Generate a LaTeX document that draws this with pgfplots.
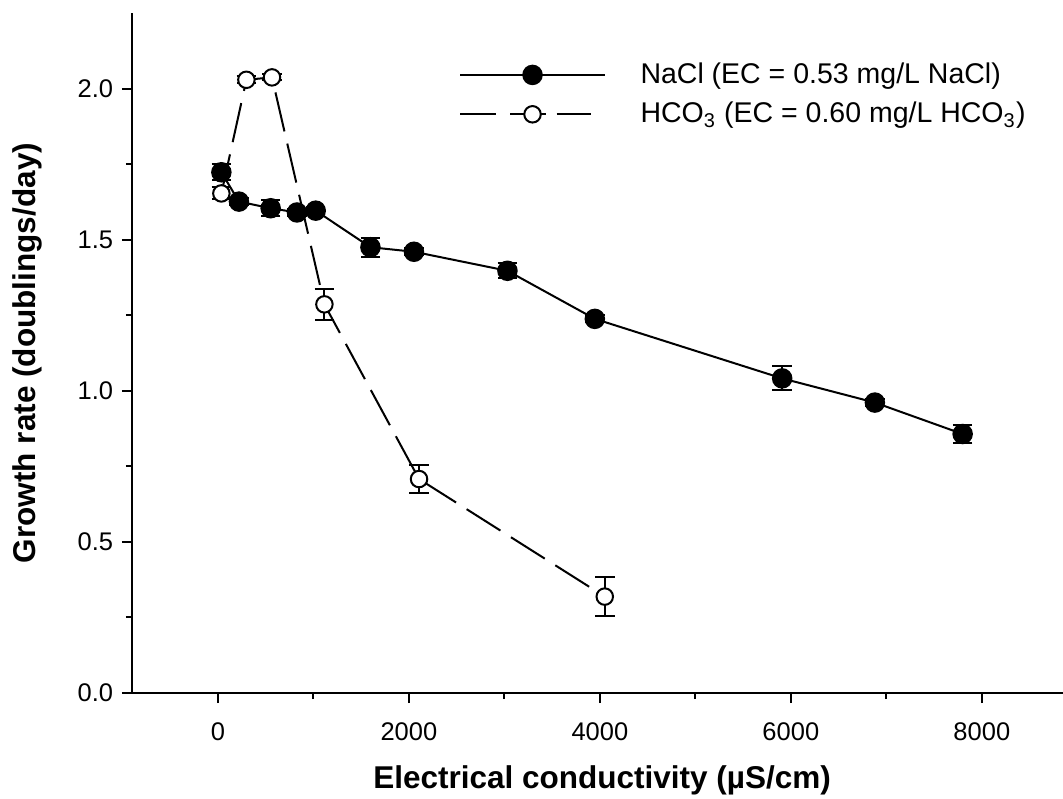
\documentclass[border=0pt]{standalone}
\usepackage{fontspec}
\setmainfont{Liberation Sans}
\usepackage{pgfplots}
\pgfplotsset{compat=1.18}

\begin{document}
\begin{tikzpicture}
\begin{axis}[
    at={(0,0)}, anchor=south west,
    scale only axis,
    width=372.4pt, height=272pt,
    xmin=-900, xmax=8850, ymin=0, ymax=2.25,
    axis x line*=bottom, axis y line*=left,
    axis line style={line width=1pt,-},
    xtick={0,2000,...,8000}, ytick={0,0.5,...,2.0},
    minor x tick num=1, minor y tick num=1,
    tick align=outside,
    major tick length=4pt, minor tick length=2.4pt,
    every tick/.style={black,line width=0.8pt},
    tick label style={font=\fontsize{10.2}{12}\selectfont},
    /pgf/number format/assume math mode=true,
    xticklabel style={/pgf/number format/1000 sep={}, yshift=-4.4pt},
    yticklabel style={/pgf/number format/.cd,fixed,fixed zerofill,precision=1},
    xlabel={Electrical conductivity (µS/cm)},
    ylabel={Growth rate (doublings/day)},
    label style={font=\bfseries\fontsize{12.6}{15}\selectfont},
    xlabel style={at={(axis description cs:0.505,-0.128)}, anchor=center},
    ylabel style={at={(axis description cs:-0.1128,0.5)}, anchor=center},
    legend cell align=left,
    legend style={draw=none, fill=none, at={(axis description cs:0.351,0.935)},
        anchor=north west, inner sep=0pt, font=\fontsize{11.4}{13}\selectfont,
        row sep=2pt, /tikz/every odd column/.append style={column sep=12pt}},
    ]
% NaCl
\addplot[black, line width=0.8pt, mark=*, mark size=3.7pt,
    mark options={solid, fill=black},
    legend image code/.code={
        \draw[solid] (0pt,0pt) -- (57.7pt,0pt);
        \draw[only marks] plot coordinates {(28.9pt,0pt)};},
    error bars/.cd, y dir=both, y explicit,
    error bar style={line width=0.8pt, solid},
    error mark options={black, line width=0.8pt, mark size=3.9pt, rotate=90}]
    table[x=x, y=y, y error=e] {
x     y      e
36    1.723  0.027
220   1.626  0.012
552   1.604  0.026
828   1.590  0.012
1024  1.596  0.012
1597  1.475  0.031
2053  1.460  0.012
3032  1.397  0.025
3947  1.238  0.012
5909  1.041  0.040
6880  0.961  0.012
7799  0.857  0.029
};
\addlegendentry{NaCl (EC = 0.53 mg/L NaCl)}
% HCO3
\addplot[black, line width=0.8pt, dash pattern=on 16pt off 5pt,
    mark=*, mark size=3.3pt, mark options={solid, fill=white},
    legend image code/.code={
        \draw[solid] (0pt,0pt) -- (14.2pt,0pt);
        \draw[solid] (19.9pt,0pt) -- (34.3pt,0pt);
        \draw[solid] (38.5pt,0pt) -- (52.2pt,0pt);
        \draw[only marks] plot coordinates {(28.9pt,0pt)};},
    error bars/.cd, y dir=both, y explicit,
    error bar style={line width=0.8pt, solid},
    error mark options={black, line width=0.8pt, mark size=3.9pt, rotate=90}]
    table[x=x, y=y, y error=e] {
x     y      e
36    1.653  0.020
298   2.029  0.012
566   2.037  0.010
1115  1.286  0.051
2106  0.708  0.046
4051  0.319  0.064
};
\addlegendentry{HCO\textsubscript{3} (EC = 0.60 mg/L HCO\textsubscript{3})}
\end{axis}
\pgfresetboundingbox
\path[use as bounding box] (-52.8pt,-42pt) rectangle (372.4pt,277.2pt);
\end{tikzpicture}
\end{document}
